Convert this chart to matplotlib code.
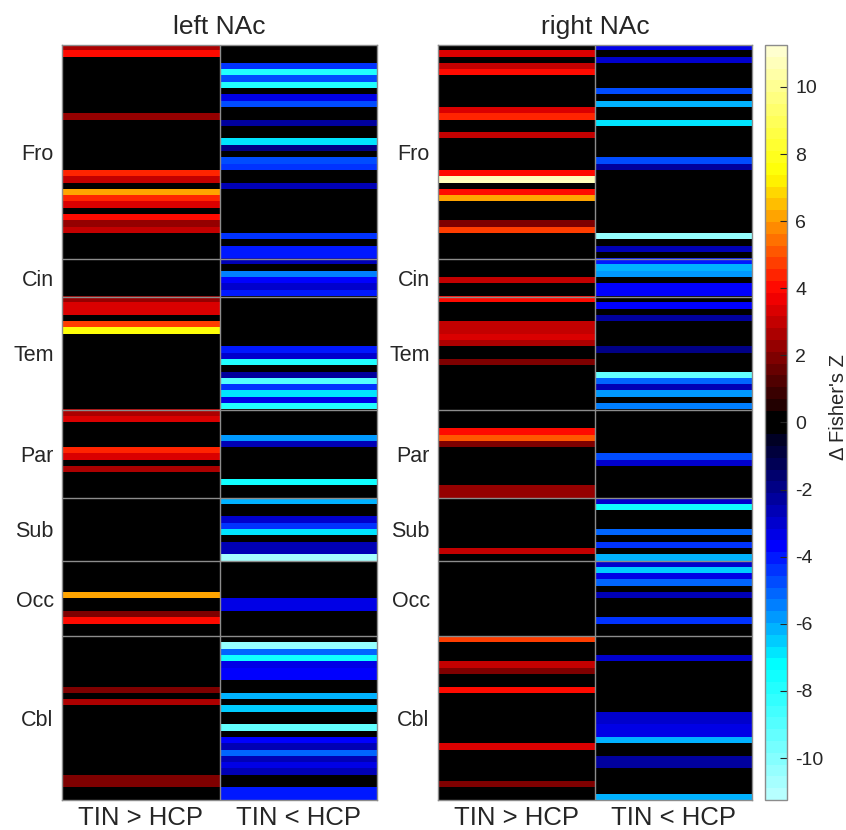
import numpy as np
import matplotlib
matplotlib.use('Agg')
import matplotlib.pyplot as plt
from matplotlib.colors import ListedColormap

plt.rcParams['font.family'] = ['Liberation Sans', 'DejaVu Sans']
plt.rcParams['axes.unicode_minus'] = False

# Regions (rows from top to bottom) and how many ROIs each has
regions = ['Fro', 'Cin', 'Tem', 'Par', 'Sub', 'Occ', 'Cbl']
region_sizes = [34, 6, 18, 14, 10, 12, 26]
columns = ['TIN > HCP', 'TIN < HCP']
panels = ['left NAc', 'right NAc']

# Non-zero cells: (roi index, delta Fisher's Z)
left_pos = [(0, 2.6), (1, 4.0), (11, 2.4), (20, 4.3), (21, 2.9), (23, 6.0), (24, 4.4),
            (25, 3.2), (27, 4.0), (28, 2.3), (29, 3.1), (40, 2.4), (41, 3.3), (42, 3.3),
            (44, 4.8), (45, 7.6), (58, 2.6), (59, 3.3), (64, 4.3), (65, 3.4), (67, 2.8),
            (87, 6.0), (90, 2.1), (91, 4.0), (102, 2.0), (104, 2.8), (116, 1.9), (117, 1.9)]
left_neg = [(3, -4.4), (4, -7.9), (5, -4.6), (6, -7.9), (8, -3.4), (9, -4.8), (12, -2.3),
            (15, -6.9), (16, -2.0), (18, -4.6), (19, -4.3), (22, -2.5), (30, -4.4),
            (32, -4.0), (33, -4.0), (34, -2.6), (36, -5.3), (37, -3.6), (38, -2.9),
            (39, -4.1), (48, -4.1), (49, -2.9), (50, -7.9), (52, -2.2), (53, -9.0),
            (54, -4.4), (55, -6.9), (56, -3.3), (57, -7.9), (62, -5.8), (63, -2.7),
            (69, -7.4), (72, -6.2), (75, -2.9), (76, -4.4), (77, -6.9), (79, -2.6),
            (80, -2.6), (81, -10.8), (88, -3.2), (89, -3.2), (95, -10.4), (96, -5.0),
            (97, -7.6), (98, -3.3), (99, -3.8), (100, -3.8), (103, -6.2), (105, -6.5),
            (108, -9.2), (110, -3.7), (111, -2.8), (112, -5.0), (113, -2.6), (114, -3.5),
            (115, -2.8), (118, -4.0), (119, -4.0)]
right_pos = [(1, 3.2), (3, 2.9), (4, 4.0), (10, 3.2), (11, 4.3), (14, 2.9), (20, 4.1),
             (21, 10.8), (23, 4.0), (24, 6.0), (28, 2.0), (29, 4.7), (37, 3.0), (40, 4.1),
             (44, 2.9), (45, 2.9), (46, 3.2), (47, 2.5), (50, 2.0), (61, 4.0), (62, 5.2),
             (63, 2.0), (70, 2.3), (71, 2.3), (80, 2.9), (94, 4.7), (98, 2.9), (99, 2.0),
             (102, 4.1), (111, 3.4), (117, 2.0)]
right_neg = [(0, -3.5), (2, -3.1), (7, -4.6), (9, -6.0), (12, -6.9), (18, -4.6), (19, -2.2),
             (30, -10.2), (32, -2.8), (34, -4.1), (35, -6.2), (36, -5.7), (38, -3.6),
             (39, -3.6), (41, -3.6), (43, -2.2), (48, -2.0), (52, -9.3), (53, -5.0),
             (54, -2.6), (55, -5.8), (57, -5.3), (65, -4.6), (66, -2.9), (72, -2.9),
             (73, -7.5), (77, -5.0), (79, -4.4), (81, -6.2), (82, -3.1), (83, -6.4),
             (84, -3.3), (85, -5.0), (87, -2.6), (91, -4.3), (97, -2.9), (106, -2.9),
             (107, -3.1), (108, -3.5), (109, -3.3), (110, -6.0), (113, -2.2), (114, -2.2),
             (119, -6.2)]

vmax = 11.25
n_roi = sum(region_sizes)


def build_matrix(pos, neg):
    m = np.zeros((n_roi, 2))
    for i, v in pos:
        m[i, 0] = v
    for i, v in neg:
        m[i, 1] = v
    return m


# hot-like map for positive values, blue/cyan counterpart for negative values
levels = np.linspace(-vmax, vmax, 64, endpoint=False) + vmax / 64
colors = []
for v in levels:
    a = abs(v)
    if a < 0.4:
        colors.append((0, 0, 0))
        continue
    if v >= 0:
        r = np.interp(a, [0, 3.9], [0, 1])
        g = np.interp(a, [3.9, 7.4], [0, 1])
        b = np.interp(a, [7.4, 11.25], [0, 0.85])
    else:
        b = np.interp(a, [0, 3.7], [0, 1])
        g = np.interp(a, [3.7, 7.2], [0, 1])
        r = np.interp(a, [7.2, 11.25], [0, 0.75])
    colors.append((r, g, b))
cmap = ListedColormap(colors)

text_color = '#262626'
line_color = '#8c8c8c'

fig = plt.figure(figsize=(8.46, 8.30), dpi=100)
ax_left = fig.add_axes([62 / 846, 30 / 830, 315 / 846, 755 / 830])
ax_right = fig.add_axes([438 / 846, 30 / 830, 314 / 846, 755 / 830])
cax = fig.add_axes([765 / 846, 30 / 830, 22 / 846, 755 / 830])

bounds = np.cumsum(region_sizes)
centers = bounds - np.array(region_sizes) / 2 - 0.5

for ax, title, pos, neg in [(ax_left, panels[0], left_pos, left_neg),
                            (ax_right, panels[1], right_pos, right_neg)]:
    im = ax.imshow(build_matrix(pos, neg), cmap=cmap, vmin=-vmax, vmax=vmax,
                   aspect='auto', interpolation='nearest')
    for b in bounds[:-1]:
        ax.axhline(b - 0.5, color=line_color, lw=1)
    ax.axvline(0.5, color=line_color, lw=1)
    ax.set_yticks(centers)
    ax.set_yticklabels(regions, fontsize=15.5, color=text_color)
    ax.set_xticks([0, 1])
    ax.set_xticklabels(columns, fontsize=18.5, color=text_color)
    ax.tick_params(length=0, pad=6)
    ax.tick_params(axis='x', pad=4)
    ax.set_title(title, fontsize=19, color=text_color, pad=8)
    for s in ax.spines.values():
        s.set_color(line_color)
        s.set_linewidth(1)

cb = fig.colorbar(im, cax=cax, ticks=np.arange(-10, 11, 2))
cb.outline.set_edgecolor(line_color)
cb.outline.set_linewidth(1)
cax.tick_params(direction='in', length=5, width=0.8, color=text_color,
                labelsize=14, labelcolor=text_color, pad=6)
fig.text(838 / 846, 423 / 830, "\u0394 Fisher's Z", rotation=90, fontsize=14.5,
         color=text_color, ha='center', va='center')

fig.savefig('out.png', dpi=100)
